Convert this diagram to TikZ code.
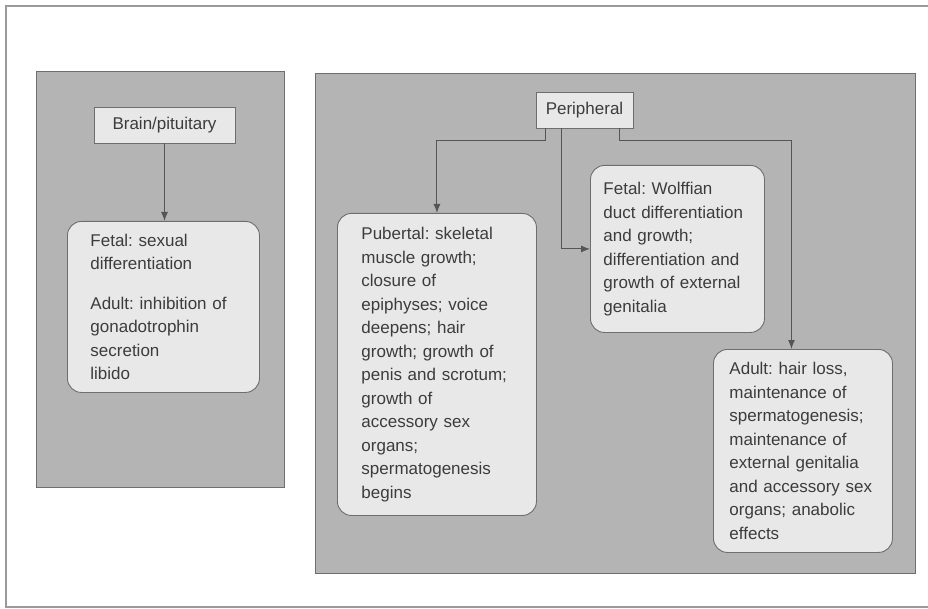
\documentclass[tikz,border=0pt]{standalone}
\usepackage{fontspec}
\setmainfont{Liberation Sans}
\frenchspacing
\usetikzlibrary{arrows.meta, positioning}
\definecolor{hrPanel}{HTML}{B4B4B4}
\definecolor{hrBox}{HTML}{E8E8E8}
\definecolor{hrEdge}{HTML}{6E6E6E}
\definecolor{hrLine}{HTML}{555555}
\definecolor{hrText}{HTML}{3C3C3C}
\definecolor{hrFrame}{HTML}{9A9A9A}
\tikzset{
  frame/.style={draw=hrFrame, line width=1.2pt},
  panel/.style={draw=hrEdge, fill=hrPanel, line width=1pt},
  sitebox/.style={
    draw=hrEdge, fill=hrBox, line width=0.9pt, inner sep=0pt,
    font=\fontsize{17}{20}\selectfont, text=hrText
  },
  effectbox/.style={
    draw=hrEdge, fill=hrBox, line width=0.9pt, rounded corners=14pt,
    anchor=north west, align=left, inner ysep=0pt,
    font=\fontsize{17}{23.5}\selectfont, text=hrText
  },
  link/.style={-{Latex[length=9pt,width=7pt]}, line width=1pt, draw=hrLine}
}

\begin{document}
\begin{tikzpicture}[x=1pt, y=-1pt]
  \useasboundingbox (0,0) rectangle (928,609);
  \draw[frame] (932,6) -- (6,6) -- (6,607) -- (932,607);

  % central and peripheral panels
  \draw[panel] (36,72) rectangle (284,487);
  \draw[panel] (315,74) rectangle (915,573);

  % brain side
  \node[sitebox, minimum width=141pt, minimum height=36pt] (brain) at (164.5,125) {Brain/pituitary};
  \node[effectbox, text width=146pt, inner xsep=23pt, minimum height=171pt] (fetalsex) at (67,221)
    {Fetal: sexual\\differentiation\\[16pt]Adult: inhibition of\\gonadotrophin\\secretion\\libido};

  % peripheral side
  \node[sitebox, minimum width=97pt, minimum height=36pt] (periph) at (584.5,110) {Peripheral};
  \node[effectbox, text width=151pt, inner xsep=24pt, minimum height=302pt] (pubertal) at (337,213)
    {Pubertal: skeletal\\muscle growth;\\closure of\\epiphyses; voice\\deepens; hair\\growth; growth of\\penis and scrotum;\\growth of\\accessory sex\\organs;\\spermatogenesis\\begins};
  \node[effectbox, text width=148pt, inner xsep=13pt, minimum height=167pt] (wolffian) at (590,165)
    {Fetal: Wolffian\\duct differentiation\\and growth;\\differentiation and\\growth of external\\genitalia};
  \node[effectbox, text width=147pt, inner xsep=16pt, minimum height=203pt] (adult) at (713,349)
    {Adult: hair loss,\\maintenance of\\spermatogenesis;\\maintenance of\\external genitalia\\and accessory sex\\organs; anabolic\\effects};

  % connectors
  \draw[link] (brain.south) -- (brain.south |- fetalsex.north);
  \draw[link] ([xshift=10pt]periph.south west) -- ++(0,12) -| (pubertal.north);
  \draw[link] ([xshift=26pt]periph.south west) |- (wolffian.west);
  \draw[link] ([xshift=-14pt]periph.south east) -- ++(0,12) -| ([xshift=-11.5pt]adult.north);
\end{tikzpicture}
\end{document}
